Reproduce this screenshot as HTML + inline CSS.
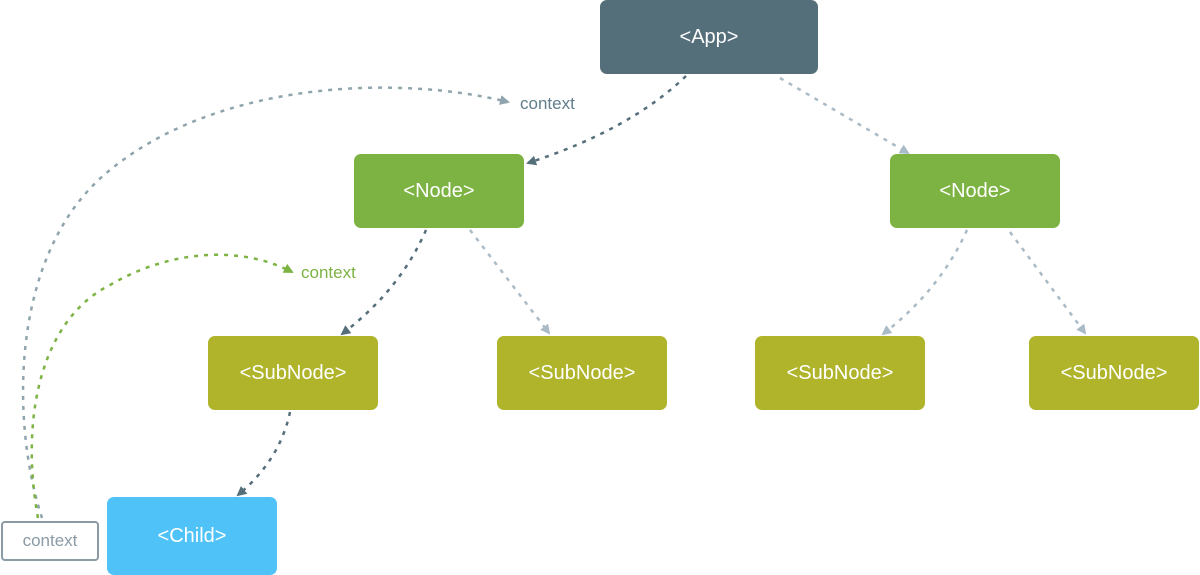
<!DOCTYPE html>
<html><head><style>
body{margin:0;width:1200px;height:572px;background:#fff;position:relative;overflow:hidden;font-family:"Liberation Sans",sans-serif}
.b{position:absolute;border-radius:7px;color:#fff;font-size:20px;display:flex;align-items:center;justify-content:center}
.t{position:absolute;font-size:17px}
</style></head><body>
<svg width="1200" height="572" style="position:absolute;left:0;top:0">
<defs>
<marker id="d" markerWidth="10" markerHeight="10" refX="8" refY="5" orient="auto" markerUnits="userSpaceOnUse"><path d="M0,0 L10,5 L0,10z" fill="#546e7a"/></marker>
<marker id="l" markerWidth="10" markerHeight="10" refX="8" refY="5" orient="auto" markerUnits="userSpaceOnUse"><path d="M0,0 L10,5 L0,10z" fill="#aabbc8"/></marker>
<marker id="g" markerWidth="10" markerHeight="10" refX="8" refY="5" orient="auto" markerUnits="userSpaceOnUse"><path d="M0,0 L10,5 L0,10z" fill="#8fa4ad"/></marker>
<marker id="gr" markerWidth="10" markerHeight="10" refX="8" refY="5" orient="auto" markerUnits="userSpaceOnUse"><path d="M0,0 L10,5 L0,10z" fill="#7cb342"/></marker>
</defs>
<g fill="none" stroke-width="2.5" stroke-dasharray="4 6">
<path d="M686,76 Q630,130 528,163" stroke="#546e7a" marker-end="url(#d)"/>
<path d="M780,78 L908,153" stroke="#aabbc8" marker-end="url(#l)"/>
<path d="M426,230 Q400,290 342,334" stroke="#546e7a" marker-end="url(#d)"/>
<path d="M470,230 L549,333" stroke="#aabbc8" marker-end="url(#l)"/>
<path d="M967,230 Q940,290 883,334" stroke="#aabbc8" marker-end="url(#l)"/>
<path d="M1010,232 L1085,333" stroke="#aabbc8" marker-end="url(#l)"/>
<path d="M290,412 Q280,460 238,495" stroke="#546e7a" marker-end="url(#d)"/>
<path d="M42,518 C10,420 10,250 110,170 C220,80 400,75 508,102" stroke="#8fa4ad" marker-end="url(#g)"/>
<path d="M38,518 C20,420 40,320 110,285 C170,250 240,245 292,272" stroke="#7cb342" marker-end="url(#gr)"/>
</g>
</svg>
<div class="b" style="left:600px;top:0;width:218px;height:74px;background:#546e7a">&lt;App&gt;</div>
<div class="b" style="left:354px;top:154px;width:170px;height:74px;background:#7cb342">&lt;Node&gt;</div>
<div class="b" style="left:890px;top:154px;width:170px;height:74px;background:#7cb342">&lt;Node&gt;</div>
<div class="b" style="left:208px;top:336px;width:170px;height:74px;background:#afb42b">&lt;SubNode&gt;</div>
<div class="b" style="left:497px;top:336px;width:170px;height:74px;background:#afb42b">&lt;SubNode&gt;</div>
<div class="b" style="left:755px;top:336px;width:170px;height:74px;background:#afb42b">&lt;SubNode&gt;</div>
<div class="b" style="left:1029px;top:336px;width:170px;height:74px;background:#afb42b">&lt;SubNode&gt;</div>
<div class="b" style="left:107px;top:497px;width:170px;height:78px;background:#4fc3f7">&lt;Child&gt;</div>
<div class="b" style="left:1px;top:521px;width:94px;height:36px;border:2px solid #8a9ba6;border-radius:4px;color:#8a9ba6;font-size:17px;background:#fff">context</div>
<div class="t" style="left:520px;top:94px;color:#607d8b">context</div>
<div class="t" style="left:301px;top:263px;color:#7cb342">context</div>
</body></html>
